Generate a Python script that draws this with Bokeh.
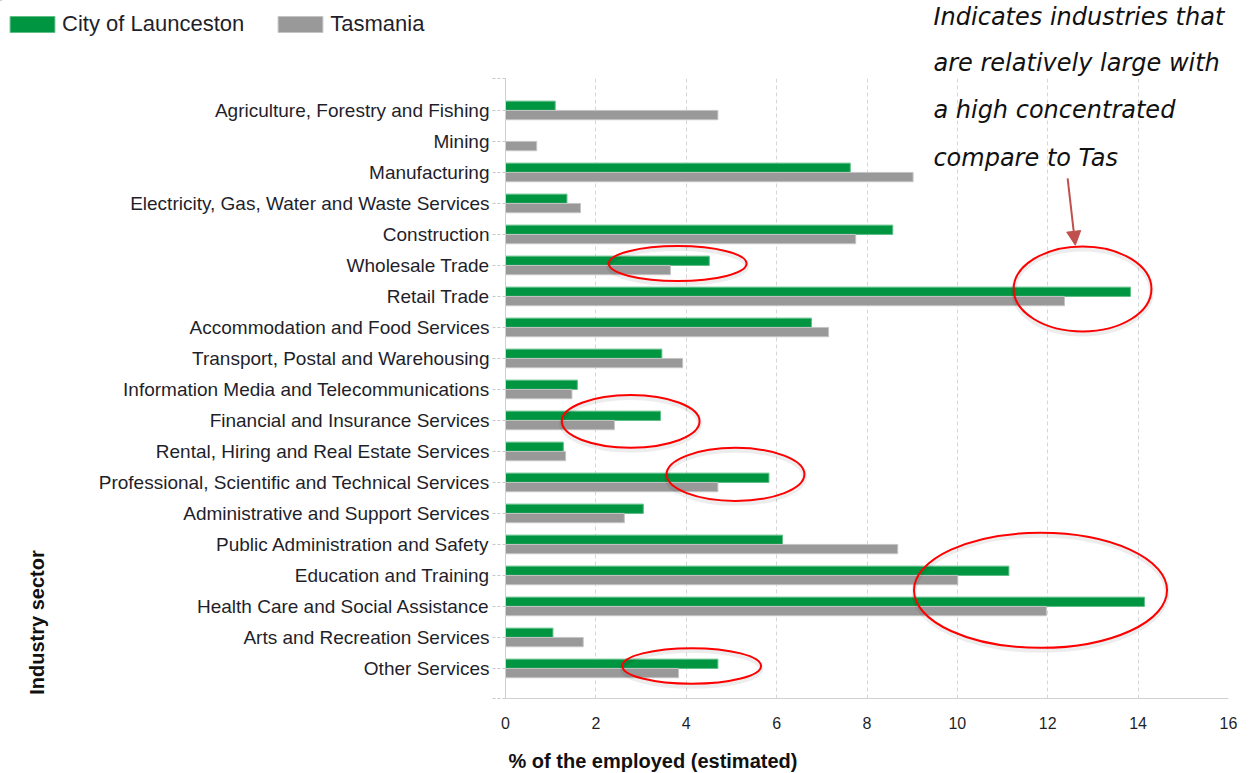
from bokeh.plotting import figure
from bokeh.layouts import column, row
from bokeh.models import (Range1d, FixedTicker, Legend, LegendItem, Label, Arrow,
                          NormalHead, ColumnDataSource)
from bokeh.core.properties import value
from bokeh.embed import file_html
from bokeh.resources import INLINE
import math

# Industry sectors, top to bottom
categories = [
    "Agriculture, Forestry and Fishing",
    "Mining",
    "Manufacturing",
    "Electricity, Gas, Water and Waste Services",
    "Construction",
    "Wholesale Trade",
    "Retail Trade",
    "Accommodation and Food Services",
    "Transport, Postal and Warehousing",
    "Information Media and Telecommunications",
    "Financial and Insurance Services",
    "Rental, Hiring and Real Estate Services",
    "Professional, Scientific and Technical Services",
    "Administrative and Support Services",
    "Public Administration and Safety",
    "Education and Training",
    "Health Care and Social Assistance",
    "Arts and Recreation Services",
    "Other Services",
]

# % of the employed (estimated)
launceston = [1.10, 0.0, 7.63, 1.36, 8.57, 4.51, 13.83, 6.77, 3.46, 1.59,
              3.43, 1.28, 5.83, 3.05, 6.13, 11.14, 14.14, 1.05, 4.70]
tasmania = [4.70, 0.69, 9.02, 1.66, 7.75, 3.65, 12.37, 7.15, 3.92, 1.47,
            2.41, 1.33, 4.70, 2.63, 8.68, 10.01, 11.97, 1.72, 3.83]

x_ticks = [0, 2, 4, 6, 8, 10, 12, 14, 16]
series_names = ["City of Launceston", "Tasmania"]
x_title = "% of the employed (estimated)"
y_title = "Industry sector"

# Highlight rings: (centre x, centre row, width, height in rows)
rings_x = [3.81, 12.77, 2.77, 5.09, 11.84, 4.12]
rings_y = [4.94, 5.76, 10.03, 11.74, 15.48, 17.92]
rings_w = [3.05, 3.05, 3.05, 3.05, 5.60, 3.07]
rings_h = [1.13, 2.74, 1.70, 1.71, 3.71, 1.15]

note_lines = [
    "Indicates industries that",
    "are relatively large with",
    "a high concentrated",
    "compare to Tas",
]

GREEN = "#009541"
GREEN_EDGE = "#5fbf86"
GREY = "#999999"
GREY_EDGE = "#c4c4c4"
TEXT = "#1f1f2b"
FONT = "Liberation Sans"
NOTE_FONT = "DejaVu Sans"

W = 1255
TOP_H = 78          # header strip (legend, note)
FOOT_H = 30         # footer strip (x axis title)
MAIN_H = 773 - TOP_H
STRIP_W = 60        # left strip (y axis title)
FRAME_LEFT = 505

rows = list(range(len(categories)))
y_top, y_bottom = -1.03, 18.97


def unalign(fig):
    # keep each figure's frame where its own borders put it
    if "frame_align" in fig.properties():
        fig.frame_align = False


def bare(fig):
    fig.outline_line_color = None
    fig.grid.visible = False
    fig.background_fill_color = "white"
    fig.border_fill_color = "white"


def pixel_figure(w, h):
    fig = figure(width=w, height=h, output_backend="svg", toolbar_location=None,
                 x_range=Range1d(0, w), y_range=Range1d(h, 0),
                 x_axis_location=None, y_axis_location=None, min_border=0)
    unalign(fig)
    bare(fig)
    return fig


# ---- header strip: legend and start of the note ----
head = pixel_figure(W, TOP_H)

# swatch renderers for the legend (their single bar sits outside the strip's range)
leg_l = head.hbar(y=[-1000], right=[1], left=0, height=1,
                  fill_color=GREEN, line_color=GREEN_EDGE, line_width=1)
leg_t = head.hbar(y=[-1000], right=[1], left=0, height=1,
                  fill_color=GREY, line_color=GREY_EDGE, line_width=1)
legend = Legend(items=[LegendItem(label=series_names[0], renderers=[leg_l]),
                       LegendItem(label=series_names[1], renderers=[leg_t])],
                orientation="horizontal", location=(4, 41),
                glyph_width=56, glyph_height=20, label_standoff=2, spacing=28,
                padding=0, margin=0, border_line_color=None,
                background_fill_alpha=0, label_text_font=FONT,
                label_text_font_size="22px", label_text_color=TEXT,
                label_height=16)
head.add_layout(legend)

head.text(x=[933, 933], y=[16, 62], text=note_lines[:2],
          text_font=value(NOTE_FONT), text_font_style="italic",
          text_font_size="24px", text_color="#111111", text_baseline="alphabetic")

# ---- left strip holding the vertical axis title ----
strip = pixel_figure(STRIP_W, MAIN_H)
strip.text(x=[36], y=[544], text=[y_title], angle=math.pi / 2,
           text_font=value(FONT), text_font_style="bold", text_font_size="20px",
           text_color="#111111", text_align="center", text_baseline="middle")

# ---- main chart ----
p = figure(width=W - STRIP_W, height=MAIN_H - FOOT_H, output_backend="svg",
           toolbar_location=None,
           x_range=Range1d(0, 16), y_range=Range1d(y_bottom, y_top),
           min_border_left=FRAME_LEFT - STRIP_W, min_border_right=27,
           min_border_top=0, min_border_bottom=45)
unalign(p)
p.outline_line_color = None
p.background_fill_color = "white"
p.border_fill_color = "white"

src = ColumnDataSource(dict(
    y_l=[r - 0.15 for r in rows], y_t=[r + 0.15 for r in rows],
    launceston=launceston, tasmania=tasmania))

p.hbar(y="y_l", left=0, right="launceston", height=0.3, source=src,
       fill_color=GREEN, line_color=GREEN_EDGE, line_width=1)
p.hbar(y="y_t", left=0, right="tasmania", height=0.3, source=src,
       fill_color=GREY, line_color=GREY_EDGE, line_width=1)

# x axis
xa = p.xaxis[0]
xa.ticker = FixedTicker(ticks=x_ticks)
xa.axis_line_color = "#d0d0d0"
xa.major_tick_line_color = None
xa.minor_tick_line_color = None
xa.major_label_text_font = FONT
xa.major_label_text_font_size = "16px"
xa.major_label_text_color = TEXT
xa.major_label_standoff = 12

# y axis with category names
ya = p.yaxis[0]
ya.ticker = FixedTicker(ticks=[y_top] + rows + [y_bottom])
overrides = {i: c for i, c in enumerate(categories)}
overrides[y_top] = ""
overrides[y_bottom] = ""
ya.major_label_overrides = overrides
ya.axis_line_color = "#d0d0d0"
ya.major_tick_line_color = "#c8c8c8"
ya.major_tick_line_dash = "3 2"
ya.major_tick_out = 13
ya.major_tick_in = 0
ya.minor_tick_line_color = None
ya.major_label_text_font = FONT
ya.major_label_text_font_size = "19px"
ya.major_label_text_color = TEXT
ya.major_label_standoff = 3

p.xgrid.ticker = FixedTicker(ticks=x_ticks)
p.xgrid.grid_line_color = "#d6d6d6"
p.xgrid.grid_line_dash = "4 3"
p.ygrid.grid_line_color = None

# highlight rings with a soft shadow
p.ellipse(x=rings_x, y=[v + 0.08 for v in rings_y], width=rings_w, height=rings_h,
          fill_color=None, line_color="#000000", line_alpha=0.07, line_width=5)
p.ellipse(x=rings_x, y=rings_y, width=rings_w, height=rings_h,
          fill_color=None, line_color="#ff0000", line_width=2)

# rest of the note and its pointer
for line, yy in zip(note_lines[2:], [-0.03, 1.52]):
    p.add_layout(Label(x=9.47, y=yy, text=line, text_font=NOTE_FONT,
                       text_font_style="italic", text_font_size="24px",
                       text_color="#111111", text_baseline="alphabetic"))

p.add_layout(Arrow(end=NormalHead(size=14, fill_color="#c0504d", line_color="#c0504d"),
                   x_start=12.44, y_start=2.19, x_end=12.61, y_end=4.35,
                   line_color="#c0504d", line_width=2))

# ---- footer strip: x axis title, left-aligned with the frame ----
foot = pixel_figure(W - STRIP_W, FOOT_H)
foot.text(x=[FRAME_LEFT - STRIP_W + 3], y=[17], text=[x_title],
          text_font=value(FONT), text_font_style="bold", text_font_size="20px",
          text_color="#111111", text_align="left", text_baseline="middle")

layout = column(head, row(strip, column(p, foot, spacing=0), spacing=0), spacing=0)
open("out.html", "w").write(file_html(layout, INLINE))
